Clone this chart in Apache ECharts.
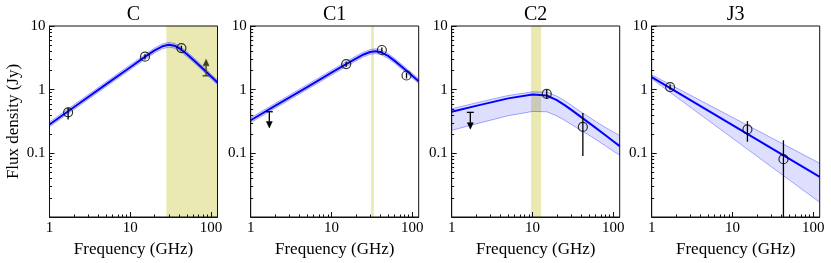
<!DOCTYPE html>
<html><head><meta charset="utf-8">
<script src="https://cdn.jsdelivr.net/npm/echarts@6/dist/echarts.min.js"></script>
<style>html,body{margin:0;padding:0;background:#fff}#c{width:831px;height:263px}</style>
</head><body><div id="c"></div>
<script>
// ---------- data ----------
const panelNames = ['C', 'C1', 'C2', 'J3'];
const xTickValues = [1, 10, 100];
const xTickLabels = ['1', '10', '100'];
const yTickValues = [0.1, 1, 10];
const yTickLabels = ['0.1', '1', '10'];
const xName = 'Frequency (GHz)';
const yName = 'Flux density (Jy)';

// model curves (GHz, Jy)
const fitFreq = [1, 2, 5, 10, 15, 20, 25, 30, 35, 40, 50, 60, 80, 100, 120];
const fitC    = [0.284, 0.530, 1.21, 2.25, 3.24, 4.13, 4.80, 5.06, 4.90, 4.51, 3.63, 2.96, 2.11, 1.61, 1.30];
const hiC     = [0.310, 0.578, 1.32, 2.46, 3.53, 4.50, 5.23, 5.52, 5.34, 4.92, 3.96, 3.23, 2.30, 1.75, 1.42];
const loC     = [0.261, 0.486, 1.11, 2.07, 2.97, 3.79, 4.40, 4.64, 4.50, 4.14, 3.33, 2.72, 1.94, 1.48, 1.19];
const fitC1   = [0.331, 0.556, 1.10, 1.85, 2.50, 3.08, 3.57, 3.91, 4.02, 3.92, 3.39, 2.86, 2.11, 1.66, 1.36];
const hiC1    = [0.361, 0.606, 1.20, 2.02, 2.73, 3.36, 3.89, 4.26, 4.38, 4.27, 3.70, 3.12, 2.30, 1.81, 1.48];
const loC1    = [0.304, 0.510, 1.01, 1.70, 2.29, 2.83, 3.28, 3.59, 3.69, 3.60, 3.11, 2.62, 1.94, 1.52, 1.25];
const fitC2   = [0.450, 0.556, 0.73, 0.84, 0.81, 0.685, 0.572, 0.486, 0.421, 0.371, 0.301, 0.253, 0.192, 0.155, 0.130];
const hiC2    = [0.500, 0.620, 0.81, 0.925, 0.915, 0.79, 0.67, 0.575, 0.50, 0.445, 0.373, 0.32, 0.255, 0.217, 0.19];
const loC2    = [0.230, 0.290, 0.39, 0.455, 0.45, 0.387, 0.33, 0.287, 0.253, 0.228, 0.193, 0.167, 0.131, 0.108, 0.094];
const fitFreqJ3 = [1, 120];
const fitJ3   = [1.58, 0.0427];
const hiJ3    = [1.71, 0.0698];
const loJ3    = [1.48, 0.017];

// measurements: frequency, flux, error low, error high
const ptFreqC  = [1.7, 15.2, 42.9];
const ptFluxC  = [0.44, 3.3, 4.5];
const ptLoC    = [0.34, 3.0, 4.1];
const ptHiC    = [0.52, 3.6, 4.9];
const ptFreqC1 = [15.2, 42, 84.8];
const ptFluxC1 = [2.52, 4.2, 1.67];
const ptLoC1   = [2.3, 3.8, 1.5];
const ptHiC1   = [2.75, 4.6, 1.85];
const ptFreqC2 = [15, 42];
const ptFluxC2 = [0.86, 0.26];
const ptLoC2   = [0.72, 0.091];
const ptHiC2   = [1.0, 0.43];
const ptFreqJ3 = [1.69, 15.3, 42.7];
const ptFluxJ3 = [1.10, 0.237, 0.081];
const ptLoJ3   = [1.0, 0.152, 0.005];
const ptHiJ3   = [1.21, 0.32, 0.16];

// limits: frequency, limit value, arrow tip
const limFreq = [86.7, 1.7, 1.7];
const limVal  = [1.65, 0.45, 0.44];
const limTip  = [3.0, 0.25, 0.24];
const limPanel = [0, 1, 2];

// shaded frequency ranges (GHz)
const spanFrom = [27.9, 31.0, 9.6];
const spanTo   = [120, 33.4, 12.8];
const spanPanel = [0, 1, 2];

// ---------- layout / style ----------
const FONT = "'Liberation Serif', 'Times New Roman', serif";
const gridLeft = [49.5, 250.7, 451.7, 651.7];
const gridW = 168, gridTop = 26, gridH = 191;
const X_MIN = 1, X_MAX = 120, Y_MIN = 0.01, Y_MAX = 10;

const panels = [
  {fitF: fitFreq, fit: fitC, hi: hiC, lo: loC, pf: ptFreqC, ps: ptFluxC, pl: ptLoC, ph: ptHiC},
  {fitF: fitFreq, fit: fitC1, hi: hiC1, lo: loC1, pf: ptFreqC1, ps: ptFluxC1, pl: ptLoC1, ph: ptHiC1},
  {fitF: fitFreq, fit: fitC2, hi: hiC2, lo: loC2, pf: ptFreqC2, ps: ptFluxC2, pl: ptLoC2, ph: ptHiC2},
  {fitF: fitFreqJ3, fit: fitJ3, hi: hiJ3, lo: loJ3, pf: ptFreqJ3, ps: ptFluxJ3, pl: ptLoJ3, ph: ptHiJ3}
];

const lg = Math.log10;
const minorX = [], minorY = [];
for (let e = 0; e <= 2; e++) for (let k = 2; k <= 9; k++) { const v = k * Math.pow(10, e); if (v < X_MAX) minorX.push(lg(v)); }
for (let e = -2; e <= 0; e++) for (let k = 2; k <= 9; k++) minorY.push(lg(k * Math.pow(10, e)));

function labelFor(vals, labels) {
  return function (v) {
    for (let k = 0; k < vals.length; k++) if (Math.abs(lg(vals[k]) - v) < 1e-6) return labels[k];
    return '';
  };
}

const grid = [], xAxis = [], yAxis = [], series = [], graphic = [];
panels.forEach((P, i) => {
  grid.push({left: gridLeft[i], top: gridTop, width: gridW, height: gridH, show: true,
    borderColor: '#111', borderWidth: 1, backgroundColor: 'rgba(0,0,0,0)', z: 10, containLabel: false});
  // data axes (log)
  xAxis.push({type: 'log', logBase: 10, gridIndex: i, min: X_MIN, max: X_MAX, position: 'bottom', show: false});
  yAxis.push({type: 'log', logBase: 10, gridIndex: i, min: Y_MIN, max: Y_MAX, position: 'left', show: false});
  // decoration axes (major)
  xAxis.push({type: 'value', gridIndex: i, min: 0, max: lg(X_MAX), position: 'bottom', z: 11,
    axisLine: {show: true, onZero: false, lineStyle: {color: '#111', width: 1}},
    axisTick: {show: true, inside: true, length: 5, customValues: xTickValues.map(lg), lineStyle: {color: '#111', width: 1}},
    axisLabel: {show: true, customValues: xTickValues.map(lg), formatter: labelFor(xTickValues, xTickLabels),
      margin: 4, color: '#000', fontFamily: FONT, fontSize: 15},
    splitLine: {show: false},
    name: xName, nameLocation: 'middle', nameGap: 21,
    nameTextStyle: {fontFamily: FONT, fontSize: 17, color: '#000'}});
  yAxis.push({type: 'value', gridIndex: i, min: lg(Y_MIN), max: lg(Y_MAX), position: 'left', z: 11,
    axisLine: {show: true, onZero: false, lineStyle: {color: '#111', width: 1}},
    axisTick: {show: true, inside: true, length: 5, customValues: yTickValues.map(lg), lineStyle: {color: '#111', width: 1}},
    axisLabel: {show: true, customValues: yTickValues.map(lg), formatter: labelFor(yTickValues, yTickLabels),
      margin: 4, color: '#000', fontFamily: FONT, fontSize: 15},
    splitLine: {show: false},
    name: i === 0 ? yName : '', nameLocation: 'middle', nameGap: 27,
    nameTextStyle: {fontFamily: FONT, fontSize: 17, color: '#000'}});
  // decoration axes (minor)
  xAxis.push({type: 'value', gridIndex: i, min: 0, max: lg(X_MAX), position: 'bottom', z: 11,
    axisLine: {show: false, onZero: false},
    axisTick: {show: true, inside: true, length: 2.5, customValues: minorX, lineStyle: {color: '#111', width: 1}},
    axisLabel: {show: false}, splitLine: {show: false}});
  yAxis.push({type: 'value', gridIndex: i, min: lg(Y_MIN), max: lg(Y_MAX), position: 'left', z: 11,
    axisLine: {show: false, onZero: false},
    axisTick: {show: true, inside: true, length: 2.5, customValues: minorY, lineStyle: {color: '#111', width: 1}},
    axisLabel: {show: false}, splitLine: {show: false}});

  const xi = 3 * i, yi = 3 * i;

  // shaded frequency span
  const spans = [];
  spanPanel.forEach((p, k) => { if (p === i) spans.push([spanFrom[k], spanTo[k], 1]); });
  if (spans.length) series.push({type: 'custom', xAxisIndex: xi, yAxisIndex: yi, z: 1, silent: true,
    encode: {x: [0, 1], y: 2}, data: spans, clip: true,
    renderItem: (params, api) => {
      const cs = params.coordSys;
      const a = api.coord([api.value(0), 1]);
      const b = api.coord([api.value(1), 1]);
      return {type: 'rect', shape: {x: a[0], y: cs.y, width: b[0] - a[0], height: cs.height},
        style: {fill: '#e9e9b1'}};
    }});

  // uncertainty band
  series.push({type: 'custom', xAxisIndex: xi, yAxisIndex: yi, z: 2, silent: true, clip: true,
    data: [[P.fitF[0], P.fit[0]]],
    renderItem: (params, api) => {
      const up = P.fitF.map((f, k) => api.coord([f, P.hi[k]]));
      const lo = P.fitF.map((f, k) => api.coord([f, P.lo[k]]));
      const poly = up.concat(lo.slice().reverse());
      return {type: 'group', children: [
        {type: 'polygon', shape: {points: poly}, style: {fill: 'rgba(0,0,255,0.13)', stroke: null}},
        {type: 'polyline', shape: {points: up}, style: {fill: null, stroke: 'rgba(0,0,255,0.33)', lineWidth: 1}},
        {type: 'polyline', shape: {points: lo}, style: {fill: null, stroke: 'rgba(0,0,255,0.33)', lineWidth: 1}}
      ]};
    }});

  // fit line
  series.push({type: 'line', xAxisIndex: xi, yAxisIndex: yi, z: 3, silent: true,
    data: P.fitF.map((f, k) => [f, P.fit[k]]), showSymbol: false, symbol: 'none', smooth: false,
    lineStyle: {color: '#0000ff', width: 2}});

  // error bars
  series.push({type: 'custom', xAxisIndex: xi, yAxisIndex: yi, z: 4, silent: true, clip: true,
    encode: {x: 0, y: 1},
    data: P.pf.map((f, k) => [f, P.ps[k], P.pl[k], P.ph[k]]),
    renderItem: (params, api) => {
      const a = api.coord([api.value(0), api.value(2)]);
      const b = api.coord([api.value(0), api.value(3)]);
      return {type: 'line', shape: {x1: a[0], y1: a[1], x2: b[0], y2: b[1]},
        style: {stroke: '#000', lineWidth: 1.3}};
    }});

  // open circles
  series.push({type: 'scatter', xAxisIndex: xi, yAxisIndex: yi, z: 5, silent: true,
    data: P.pf.map((f, k) => [f, P.ps[k]]), symbol: 'circle', symbolSize: 9,
    itemStyle: {color: 'rgba(0,0,0,0)', borderColor: '#000', borderWidth: 1.2}});

  // limit arrows
  const lims = [];
  limPanel.forEach((p, k) => { if (p === i) lims.push([limFreq[k], limVal[k], limTip[k]]); });
  if (lims.length) series.push({type: 'custom', xAxisIndex: xi, yAxisIndex: yi, z: 5, silent: true,
    encode: {x: 0, y: 1}, data: lims,
    renderItem: (params, api) => {
      const c = api.coord([api.value(0), api.value(1)]);
      const t = api.coord([api.value(0), api.value(2)]);
      const dir = t[1] > c[1] ? 1 : -1;
      const col = dir < 0 ? '#3e3e1c' : '#000';
      const hh = 6.5, hw = 3;
      return {type: 'group', children: [
        {type: 'line', shape: {x1: c[0] - 3.5, y1: c[1], x2: c[0] + 3.5, y2: c[1]}, style: {stroke: col, lineWidth: 1.3}},
        {type: 'line', shape: {x1: c[0], y1: c[1], x2: t[0], y2: t[1] - dir * hh}, style: {stroke: col, lineWidth: 1.3}},
        {type: 'polygon', shape: {points: [[t[0], t[1]], [t[0] - hw, t[1] - dir * hh], [t[0] + hw, t[1] - dir * hh]]},
          style: {fill: col, stroke: col, lineWidth: 0.5}}
      ]};
    }});

  graphic.push({type: 'text', x: gridLeft[i] + gridW / 2, y: 14.5, silent: true,
    style: {text: panelNames[i], fontFamily: FONT, fontSize: 20, fill: '#000', align: 'center', verticalAlign: 'middle'}});
});

const chart = echarts.init(document.getElementById('c'), null, {renderer: 'canvas'});
chart.setOption({animation: false, grid, xAxis, yAxis, series, graphic});
</script>
</body></html>
